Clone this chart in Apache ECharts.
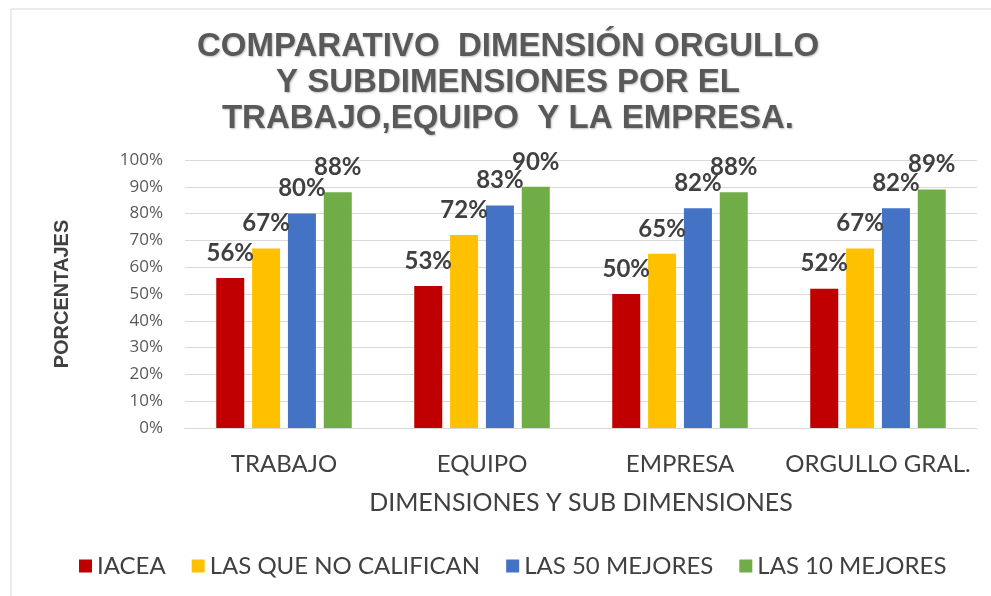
<!DOCTYPE html>
<html>
<head>
<meta charset="utf-8">
<script src="https://cdn.jsdelivr.net/npm/echarts@6/dist/echarts.min.js"></script>
<style>
  html, body { margin: 0; padding: 0; background: #fff; }
  #chart { width: 991px; height: 596px; }
</style>
</head>
<body>
<div id="chart"></div>
<script>
// categorías y valores (%)
const categorias = ['TRABAJO', 'EQUIPO', 'EMPRESA', 'ORGULLO GRAL.']
const iacea = [56, 53, 50, 52]
const noCalifican = [67, 72, 65, 67]
const mejores50 = [80, 83, 82, 82]
const mejores10 = [88, 90, 88, 89]
const nombres = ['IACEA', 'LAS QUE NO CALIFICAN', 'LAS 50 MEJORES', 'LAS 10 MEJORES']
const colores = ['#C00000', '#FFC000', '#4472C4', '#70AD47']

const chart = echarts.init(document.getElementById('chart'))

const serieBar = (name, data, color) => ({
  name: name,
  type: 'bar',
  data: data,
  barWidth: 28,
  barGap: '28%',
  itemStyle: { color: color },
  label: {
    show: true,
    position: 'top',
    distance: 13,
    formatter: '{c}%',
    color: '#404040',
    fontFamily: 'Lato',
    fontWeight: 'bold',
    fontSize: 24
  }
})

chart.setOption({
  animation: false,
  title: {
    text: 'COMPARATIVO  DIMENSIÓN ORGULLO\nY SUBDIMENSIONES POR EL\nTRABAJO,EQUIPO  Y LA EMPRESA.',
    left: 503,
    top: 24,
    textAlign: 'center',
    textStyle: {
      fontFamily: 'Liberation Sans',
      fontWeight: 'bold',
      fontSize: 33,
      lineHeight: 36,
      color: '#595959',
      textShadowColor: 'rgba(0,0,0,0.25)',
      textShadowBlur: 2,
      textShadowOffsetX: 1,
      textShadowOffsetY: 1
    }
  },
  legend: {
    data: nombres,
    left: 74,
    top: 549,
    icon: 'rect',
    itemWidth: 13,
    itemHeight: 13,
    itemGap: 26,
    textStyle: { fontFamily: 'Lato', fontSize: 24, color: '#404040' }
  },
  grid: { left: 185, right: 14, top: 160, bottom: 168 },
  xAxis: {
    type: 'category',
    data: categorias,
    name: 'DIMENSIONES Y SUB DIMENSIONES',
    nameLocation: 'middle',
    nameGap: 62,
    nameTextStyle: { fontFamily: 'Lato', fontSize: 25, color: '#404040' },
    axisLine: { lineStyle: { color: '#d9d9d9' } },
    axisTick: { show: false },
    axisLabel: { interval: 0, margin: 24, fontFamily: 'Lato', fontSize: 24, color: '#404040' }
  },
  yAxis: {
    type: 'value',
    min: 0,
    max: 100,
    interval: 10,
    name: 'PORCENTAJES',
    nameLocation: 'middle',
    nameGap: 113,
    nameTextStyle: { fontFamily: 'Liberation Sans', fontWeight: 'bold', fontSize: 20, color: '#404040' },
    axisLine: { show: false },
    axisTick: { show: false },
    axisLabel: { margin: 22, formatter: '{value}%', fontFamily: 'Open Sans', fontSize: 17, color: '#595959' },
    splitLine: { lineStyle: { color: '#d9d9d9' } }
  },
  graphic: [{
    type: 'rect',
    shape: { x: 11, y: 9, width: 1000, height: 620 },
    style: { fill: 'none', stroke: '#d9d9d9', lineWidth: 1 },
    silent: true
  }],
  series: [
    serieBar(nombres[0], iacea, colores[0]),
    serieBar(nombres[1], noCalifican, colores[1]),
    serieBar(nombres[2], mejores50, colores[2]),
    serieBar(nombres[3], mejores10, colores[3])
  ]
})
</script>
</body>
</html>
